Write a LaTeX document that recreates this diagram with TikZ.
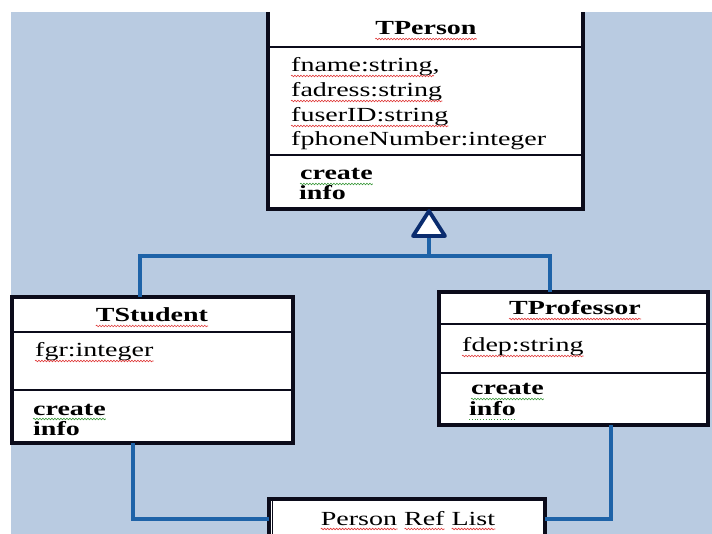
\documentclass[tikz,border=0pt]{standalone}
\usepackage{fontspec}
\setmainfont{Liberation Serif}[FakeStretch=1.4]
\usetikzlibrary{decorations.pathmorphing,calc}
\definecolor{bgblue}{HTML}{B9CBE1}
\definecolor{connblue}{HTML}{1E63A8}
\definecolor{bordercol}{HTML}{0B0B1A}
\definecolor{trinavy}{HTML}{0A2C6E}
\definecolor{squigred}{HTML}{E03A3A}
\definecolor{squiggreen}{HTML}{3C9A3C}
\tikzset{
  boxfill/.style={fill=white, draw=none, inner sep=0pt},
  outer/.style={draw=bordercol, line width=3.6pt, line join=miter},
  divider/.style={draw=bordercol, line width=2pt},
  conn/.style={draw=connblue, line width=3.6pt, line join=miter},
  txt/.style={anchor=base west, inner sep=0pt, font=\fontsize{20}{20}\selectfont, text=black},
  ttl/.style={anchor=base, inner sep=0pt, font=\fontsize{20}{20}\selectfont\bfseries, text=black},
  mth/.style={anchor=base west, inner sep=0pt, font=\fontsize{20}{20}\selectfont\bfseries, text=black},
  wavr/.style={draw=squigred, line width=0.6pt, decorate, decoration={snake, amplitude=0.8pt, segment length=3pt}},
  wavg/.style={draw=squiggreen, line width=0.6pt, decorate, decoration={snake, amplitude=0.8pt, segment length=3pt}},
  dotg/.style={draw=squiggreen, line width=0.8pt, dotted}
}
\begin{document}
\begin{tikzpicture}[x=1pt,y=-1pt]
\useasboundingbox (0,0) rectangle (712,534);
\fill[white] (0,0) rectangle (712,534);
\fill[bgblue] (11,12) rectangle (712,534);

% coordinates for connector routing
\coordinate (hy) at (0,256);
\coordinate (sx) at (140,0);
\coordinate (px) at (550,0);
\coordinate (bx) at (133,0);
\coordinate (rx) at (611,0);
\coordinate (by) at (0,519);
\coordinate (apex) at (429,211);
\coordinate (tribase) at (429,236);

% ---------- TPerson ----------
\node[boxfill, minimum width=315pt, minimum height=197pt] (tperson) at (425.5,110.5) {};
\draw[outer] (tperson.north west) -- (tperson.south west) -- (tperson.south east) -- (tperson.north east);
\draw[divider] (268,47) -- (583,47);
\draw[divider] (268,155) -- (583,155);
\node[ttl] (tpt) at (426,35) {TPerson};
\node[txt] (a1) at (291,72) {fname:string,};
\node[txt] (a2) at (291,97) {fadress:string};
\node[txt] (a3) at (291,122) {fuserID:string};
\node[txt] (a4) at (291,146) {fphoneNumber:integer};
\node[mth] (m1) at (300,180) {create};
\node[mth] (m2) at (299,200) {info};

% ---------- TStudent ----------
\node[boxfill, minimum width=281pt, minimum height=146pt] (tstudent) at (152.5,370) {};
\draw[outer] (tstudent.north west) rectangle (tstudent.south east);
\draw[divider] (12,332) -- (293,332);
\draw[divider] (12,390) -- (293,390);
\node[ttl] (tst) at (152,322) {TStudent};
\node[txt] (s1) at (35,357) {fgr:integer};
\node[mth] (s2) at (33,415) {create};
\node[mth] (s3) at (33,435) {info};

% ---------- TProfessor ----------
\node[boxfill, minimum width=269pt, minimum height=133pt] (tprof) at (573.5,358.5) {};
\draw[outer] (tprof.north west) rectangle (tprof.south east);
\draw[divider] (439,324) -- (708,324);
\draw[divider] (439,373) -- (708,373);
\node[ttl] (tpr) at (575,315) {TProfessor};
\node[txt] (p1) at (462,352) {fdep:string};
\node[mth] (p2) at (471,395) {create};
\node[mth] (p3) at (469,415) {info};

% ---------- Person Ref List ----------
\begin{scope}
\clip (0,0) rectangle (712,534);
\node[boxfill, minimum width=276pt, minimum height=50pt] (pref) at (407,524) {};
\draw[outer] (pref.south west) -- (pref.north west) -- (pref.north east) -- (pref.south east);
\draw[bordercol, line width=1pt] ($(pref.north west)+(4,2)$) -- ($(pref.south west)+(4,0)$);
\end{scope}
\node[anchor=base, inner sep=0pt, font=\fontsize{20}{20}\selectfont] (prt) at (408,525) {Person Ref List};

% ---------- spell-check squiggles ----------
\draw[wavr] ($(tpt.base west)+(0,4)$) -- ($(tpt.base east)+(0,4)$);
\draw[wavr] ($(a1.base west)+(0,4)$) -- ($(a1.base east)+(-6,4)$);
\draw[wavr] ($(a2.base west)+(0,4)$) -- ($(a2.base east)+(0,4)$);
\draw[wavr] ($(a3.base west)+(0,4)$) -- ($(a3.base east)+(0,4)$);
\draw[wavg] ($(m1.base west)+(0,4)$) -- ($(m1.base east)+(0,4)$);
\draw[wavr] ($(tst.base west)+(0,4)$) -- ($(tst.base east)+(0,4)$);
\draw[wavr] ($(s1.base west)+(0,4)$) -- ($(s1.base east)+(0,4)$);
\draw[wavg] ($(s2.base west)+(0,4)$) -- ($(s2.base east)+(0,4)$);
\draw[wavr] ($(tpr.base west)+(0,4)$) -- ($(tpr.base east)+(0,4)$);
\draw[wavr] ($(p1.base west)+(0,4)$) -- ($(p1.base east)+(0,4)$);
\draw[wavg] ($(p2.base west)+(0,4)$) -- ($(p2.base east)+(0,4)$);
\draw[dotg] ($(p3.base west)+(0,4)$) -- ($(p3.base east)+(0,4)$);
\draw[wavr] ($(prt.base west)+(0,4)$) -- ($(prt.base west)!0.44!(prt.base east)+(0,4)$);
\draw[wavr] ($(prt.base west)!0.48!(prt.base east)+(0,4)$) -- ($(prt.base west)!0.71!(prt.base east)+(0,4)$);
\draw[wavr] ($(prt.base west)!0.75!(prt.base east)+(0,4)$) -- ($(prt.base east)+(0,4)$);

% ---------- connectors ----------
\draw[conn] (tstudent.north -| sx) |- (tribase |- hy) -- (tribase);
\draw[conn] (tprof.north -| px) |- (tribase |- hy);
\draw[draw=trinavy, fill=white, line width=3.8pt, line join=round] (apex) -- (413,236) -- (445,236) -- cycle;
\draw[conn] (tstudent.south -| bx) |- (pref.west |- by);
\draw[conn] (tprof.south -| rx) |- (pref.east |- by);
\end{tikzpicture}
\end{document}
